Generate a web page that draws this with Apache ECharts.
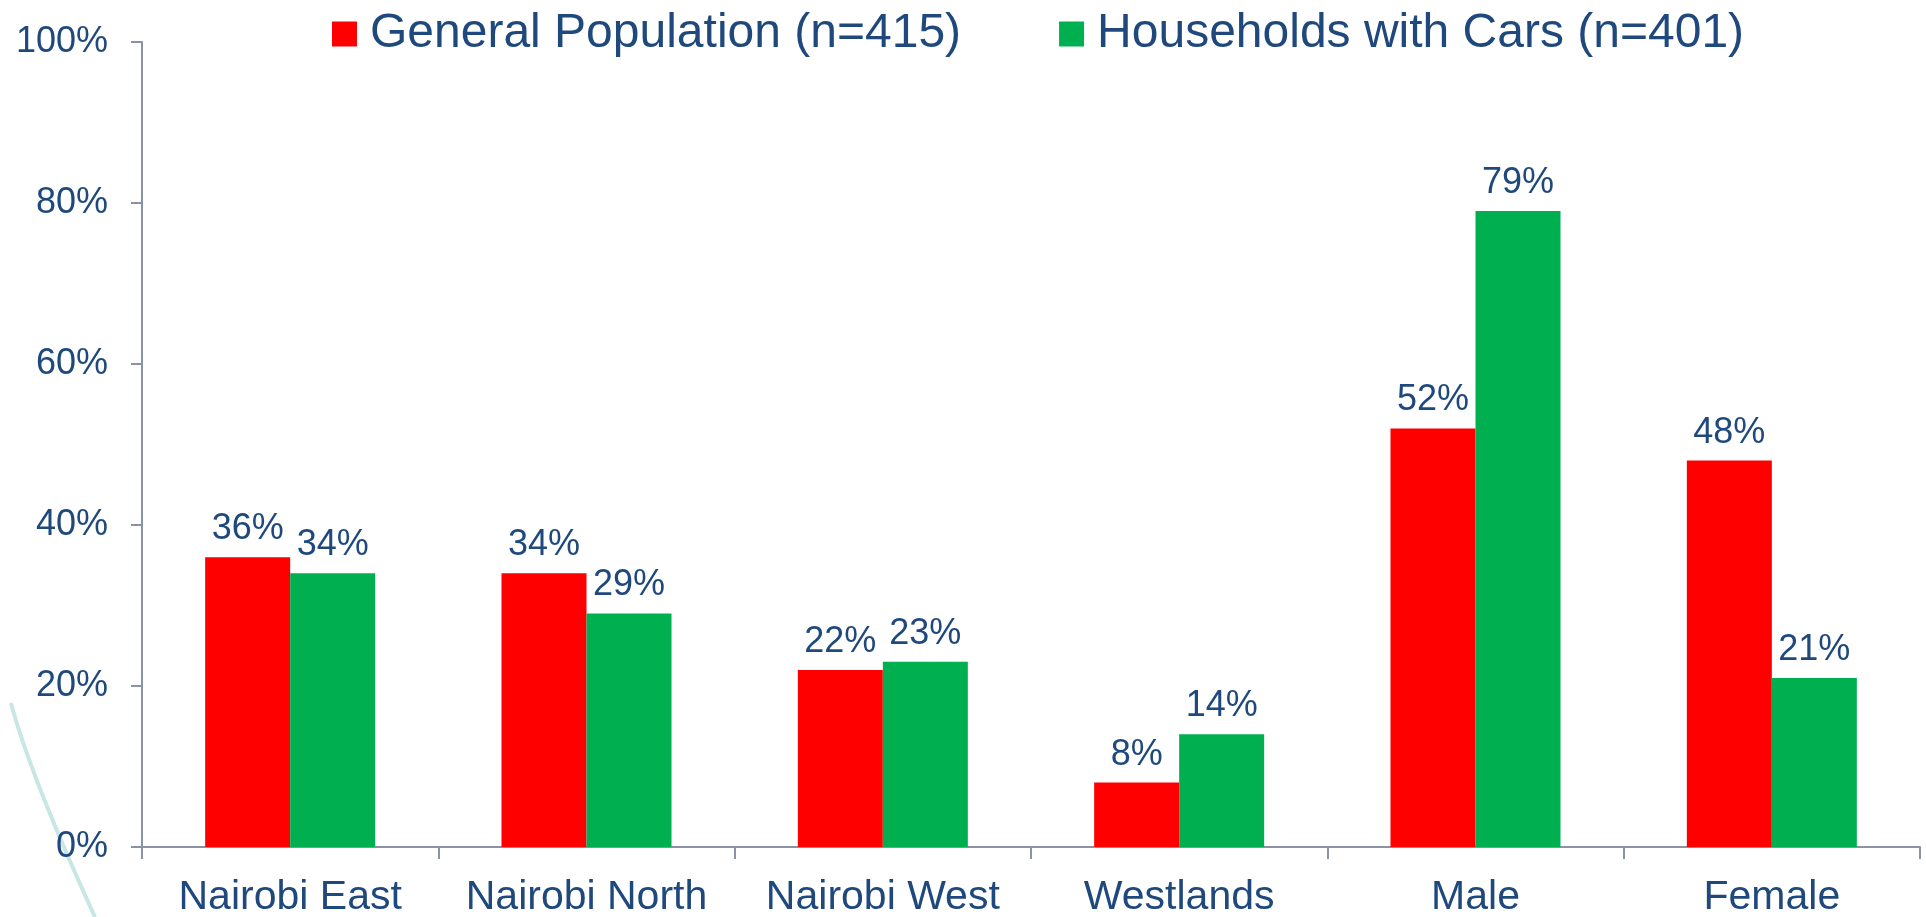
<!DOCTYPE html>
<html lang="en">
<head>
    <meta charset="UTF-8">
    <script src="https://cdn.jsdelivr.net/npm/echarts@6/dist/echarts.min.js"></script>
    <title>Chart</title>
    <style>
        html, body { margin: 0; padding: 0; background: #fff; }
    </style>
</head>
<body>
    <div id="barChart_main" style="width: 1926px; height: 917px"></div>
<script>

    var categories = ['Nairobi East', 'Nairobi North', 'Nairobi West', 'Westlands', 'Male', 'Female'];
    var generalPop = [36, 34, 22, 8, 52, 48];
    var carHouseholds = [34, 29, 23, 14, 79, 21];
    var yTicks = [0, 20, 40, 60, 80, 100];

    var textColor = '#1F497D';
    var axisColor = '#8A93A6';
    var fontName = '"Liberation Sans", Arial, sans-serif';

    var BarChart_Main = echarts.init(document.getElementById('barChart_main'));

    option = {
        animation: false,
        textStyle: { fontFamily: fontName },
        legend: {
            left: 332,
            top: 10,
            padding: 0,
            itemWidth: 25,
            itemHeight: 25,
            itemGap: 98,
            icon: 'rect',
            textStyle: {
                color: textColor,
                fontSize: 48,
                fontFamily: fontName,
                padding: [0, 0, 0, 8]
            },
            data: ['General Population (n=415)', 'Households with Cars (n=401)']
        },
        grid: {
            left: 142,
            right: 6,
            top: 42,
            bottom: 70,
            outerBoundsMode: 'none',
            containLabel: false
        },
        xAxis: {
            type: 'category',
            data: categories,
            axisLine: { lineStyle: { color: axisColor, width: 2 } },
            axisTick: { show: true, length: 12, lineStyle: { color: axisColor, width: 2 } },
            axisLabel: {
                interval: 0,
                color: textColor,
                fontSize: 41,
                margin: 30,
                overflow: 'none',
                fontFamily: fontName
            }
        },
        yAxis: {
            type: 'value',
            min: yTicks[0],
            max: yTicks[yTicks.length - 1],
            interval: 20,
            splitLine: { show: false },
            axisLine: { show: true, lineStyle: { color: axisColor, width: 2 } },
            axisTick: { show: true, length: 11, lineStyle: { color: axisColor, width: 2 } },
            axisLabel: {
                color: textColor,
                fontSize: 36,
                margin: 34,
                showMaxLabel: true,
                overflow: 'none',
                fontFamily: fontName,
                formatter: function (v) { return v + '%'; }
            }
        },
        series: [{
            name: 'General Population (n=415)',
            type: 'bar',
            data: generalPop,
            barWidth: 85,
            barGap: '0%',
            itemStyle: { color: '#FF0000' },
            label: {
                show: true,
                position: 'top',
                distance: 10,
                color: textColor,
                fontSize: 36,
                fontFamily: fontName,
                formatter: '{c}%'
            }
        }, {
            name: 'Households with Cars (n=401)',
            type: 'bar',
            data: carHouseholds,
            barWidth: 85,
            barGap: '0%',
            itemStyle: { color: '#00B050' },
            label: {
                show: true,
                position: 'top',
                distance: 10,
                color: textColor,
                fontSize: 36,
                fontFamily: fontName,
                formatter: '{c}%'
            }
        }],
        graphic: [{
            // decorative slide swoosh in bottom-left corner
            type: 'bezierCurve',
            shape: { x1: 11, y1: 703, x2: 95, y2: 917, cpx1: 30, cpy1: 775 },
            style: { stroke: '#C8E6E4', lineWidth: 4, fill: null },
            silent: true
        }]
    };

    BarChart_Main.setOption(option);

</script>
</body>
</html>
